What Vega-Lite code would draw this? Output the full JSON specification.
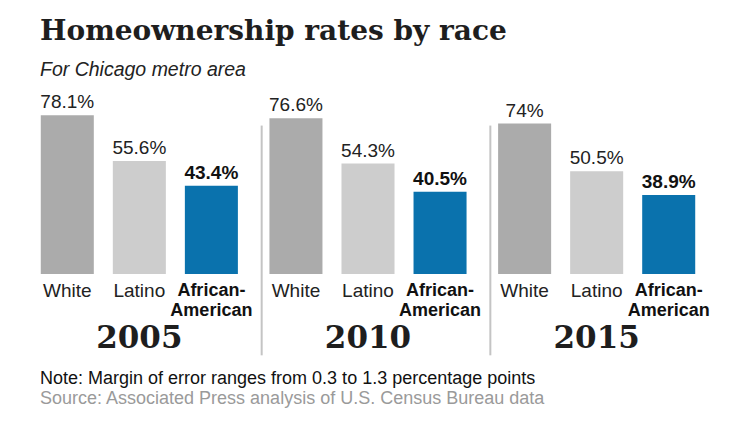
{
  "$schema": "https://vega.github.io/schema/vega-lite/v6.json",
  "background": "white",
  "padding": {"left": 25, "top": 17, "right": 5, "bottom": 5},
  "title": {
    "text": "Homeownership rates by race",
    "subtitle": "For Chicago metro area",
    "anchor": "start",
    "frame": "group",
    "dx": 15,
    "font": "DejaVu Serif",
    "fontSize": 28,
    "fontWeight": "bold",
    "color": "#1e1e1e",
    "subtitleFont": "Liberation Sans",
    "subtitleFontSize": 19.5,
    "subtitleFontStyle": "italic",
    "subtitleColor": "#222",
    "subtitlePadding": 15,
    "offset": 12
  },
  "config": {"view": {"stroke": null}},
  "datasets": {
    "rates": [
      {"year": "2005", "race": "White", "label": "White", "value": 0.781},
      {"year": "2005", "race": "Latino", "label": "Latino", "value": 0.556},
      {"year": "2005", "race": "African-American", "label": "African-\nAmerican", "value": 0.434},
      {"year": "2010", "race": "White", "label": "White", "value": 0.766},
      {"year": "2010", "race": "Latino", "label": "Latino", "value": 0.543},
      {"year": "2010", "race": "African-American", "label": "African-\nAmerican", "value": 0.405},
      {"year": "2015", "race": "White", "label": "White", "value": 0.74},
      {"year": "2015", "race": "Latino", "label": "Latino", "value": 0.505},
      {"year": "2015", "race": "African-American", "label": "African-\nAmerican", "value": 0.389}
    ],
    "dividers": [
      {"year": "2010", "top": 0.73, "bottom": -0.40},
      {"year": "2015", "top": 0.73, "bottom": -0.40}
    ]
  },
  "vconcat": [
    {
      "width": 686,
      "height": 183,
      "title": {
        "text": "Note: Margin of error ranges from 0.3 to 1.3 percentage points",
        "subtitle": "Source: Associated Press analysis of U.S. Census Bureau data",
        "orient": "bottom",
        "anchor": "start",
        "frame": "group",
        "dx": 15,
        "font": "Liberation Sans",
        "fontSize": 18,
        "fontWeight": "normal",
        "color": "#111",
        "subtitleFont": "Liberation Sans",
        "subtitleFontSize": 18,
        "subtitleColor": "#9a9a9a",
        "subtitlePadding": 2,
        "offset": 14
      },
      "encoding": {
        "x": {
          "field": "year",
          "type": "nominal",
          "sort": ["2005", "2010", "2015"],
          "scale": {"paddingInner": 0, "paddingOuter": 0},
          "axis": {
            "title": null,
            "domain": false,
            "ticks": false,
            "grid": false,
            "labelAngle": 0,
            "labelFont": "DejaVu Serif",
            "labelFontSize": 31,
            "labelFontWeight": "bold",
            "labelColor": "#1e1e1e",
            "labelBaseline": "middle",
            "labelPadding": 64
          }
        }
      },
      "layer": [
        {
          "data": {"name": "rates"},
          "mark": {"type": "bar"},
          "encoding": {
            "xOffset": {
              "field": "race",
              "type": "nominal",
              "sort": ["White", "Latino", "African-American"],
              "scale": {"paddingInner": 0.264, "paddingOuter": 0.219}
            },
            "y": {
              "field": "value",
              "type": "quantitative",
              "scale": {"domain": [0, 0.9], "nice": false},
              "axis": null
            },
            "color": {
              "field": "race",
              "type": "nominal",
              "scale": {"domain": ["White", "Latino", "African-American"], "range": ["#ababab", "#cdcdcd", "#0a72ad"]},
              "legend": null
            }
          }
        },
        {
          "data": {"name": "rates"},
          "transform": [{"filter": "datum.race !== 'African-American'"}],
          "mark": {"type": "text", "baseline": "alphabetic", "dy": -7, "font": "Liberation Sans", "fontSize": 19, "color": "#222"},
          "encoding": {
            "xOffset": {"field": "race", "type": "nominal", "sort": ["White", "Latino", "African-American"]},
            "y": {"field": "value", "type": "quantitative"},
            "text": {"field": "value", "type": "quantitative", "format": ".1~%"}
          }
        },
        {
          "data": {"name": "rates"},
          "transform": [{"filter": "datum.race === 'African-American'"}],
          "mark": {"type": "text", "baseline": "alphabetic", "dy": -7, "font": "Liberation Sans", "fontSize": 19, "fontWeight": "bold", "color": "#111"},
          "encoding": {
            "xOffset": {"field": "race", "type": "nominal", "sort": ["White", "Latino", "African-American"]},
            "y": {"field": "value", "type": "quantitative"},
            "text": {"field": "value", "type": "quantitative", "format": ".1~%"}
          }
        },
        {
          "data": {"name": "rates"},
          "transform": [{"filter": "datum.race !== 'African-American'"}],
          "mark": {"type": "text", "baseline": "top", "dy": 8, "font": "Liberation Sans", "fontSize": 19, "color": "#222"},
          "encoding": {
            "xOffset": {"field": "race", "type": "nominal", "sort": ["White", "Latino", "African-American"]},
            "y": {"datum": 0},
            "text": {"field": "label", "type": "nominal"}
          }
        },
        {
          "data": {"name": "rates"},
          "transform": [{"filter": "datum.race === 'African-American'"}],
          "mark": {"type": "text", "baseline": "top", "dy": 8, "font": "Liberation Sans", "fontSize": 18, "fontWeight": "bold", "lineBreak": "\n", "lineHeight": 20, "color": "#111"},
          "encoding": {
            "xOffset": {"field": "race", "type": "nominal", "sort": ["White", "Latino", "African-American"]},
            "y": {"datum": 0},
            "text": {"field": "label", "type": "nominal"}
          }
        },
        {
          "data": {"name": "dividers"},
          "mark": {"type": "rule", "color": "#c4c4c4", "strokeWidth": 2},
          "encoding": {
            "x": {"field": "year", "type": "nominal", "bandPosition": 0.035},
            "y": {"field": "top", "type": "quantitative"},
            "y2": {"field": "bottom"}
          }
        }
      ]
    }
  ]
}
